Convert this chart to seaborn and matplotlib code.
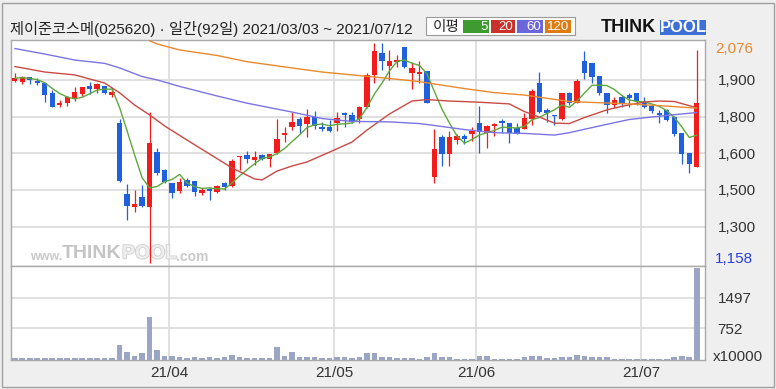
import numpy as np
import pandas as pd
import seaborn as sns
import matplotlib.pyplot as plt
import matplotlib.patheffects as pe
from matplotlib.patches import Rectangle

sns.set_theme(style="white")
plt.rcParams['font.family'] = ['Liberation Sans', 'Noto Sans CJK KR', 'DejaVu Sans']

title = "제이준코스메(025620) · 일간(92일) 2021/03/03 ~ 2021/07/12"
month_labels = ["21/04", "21/05", "21/06", "21/07"]
month_start = [21, 43, 62, 84]  # first trading day of each month

# daily candles (KRW)
opens = [1919, 1913, 1933, 1919, 1910, 1866, 1817, 1825, 1844, 1862,
         1897, 1883, 1897, 1859, 1741, 1446, 1393, 1435, 1393, 1620,
         1546, 1493, 1460, 1505, 1500, 1449, 1467, 1456, 1491, 1480,
         1599, 1609, 1588, 1609, 1592, 1616, 1692, 1724, 1758, 1738,
         1766, 1724, 1724, 1741, 1785, 1776, 1758, 1810, 1943, 2036,
         1981, 1998, 2058, 1952, 1947, 1959, 1518, 1683, 1613, 1671,
         1688, 1697, 1741, 1702, 1730, 1751, 1741, 1720, 1716, 1758,
         1908, 1797, 1776, 1758, 1866, 1827, 2002, 1991, 1938, 1869,
         1817, 1850, 1859, 1866, 1831, 1813, 1783, 1797, 1769, 1699,
         1616, 1560]
closes = [1929, 1934, 1922, 1908, 1859, 1810, 1827, 1850, 1870, 1891,
          1884, 1904, 1869, 1870, 1502, 1398, 1403, 1396, 1658, 1533,
          1498, 1452, 1498, 1480, 1456, 1463, 1460, 1480, 1477, 1585,
          1605, 1592, 1602, 1592, 1612, 1674, 1699, 1748, 1730, 1766,
          1731, 1716, 1710, 1762, 1776, 1748, 1808, 1943, 2043, 2002,
          2001, 2005, 1977, 1973, 1956, 1827, 1633, 1613, 1683, 1688,
          1674, 1710, 1706, 1730, 1738, 1741, 1702, 1697, 1762, 1877,
          1790, 1785, 1772, 1866, 1825, 1919, 1952, 1936, 1869, 1817,
          1838, 1825, 1845, 1834, 1810, 1794, 1776, 1755, 1695, 1613,
          1571, 1825]
highs = [1950, 1938, 1935, 1929, 1911, 1880, 1838, 1855, 1891, 1894,
         1915, 1908, 1898, 1890, 1758, 1487, 1463, 1484, 1790, 1637,
         1549, 1494, 1512, 1512, 1501, 1470, 1477, 1484, 1498, 1591,
         1605, 1627, 1627, 1613, 1612, 1758, 1724, 1790, 1769, 1800,
         1794, 1748, 1755, 1790, 1790, 1790, 1813, 1950, 2076, 2076,
         2047, 2026, 2061, 1998, 2002, 1960, 1716, 1692, 1710, 1697,
         1697, 1724, 1813, 1734, 1741, 1758, 1744, 1741, 1785, 1883,
         1954, 1804, 1776, 1869, 1873, 1925, 2044, 1994, 1938, 1869,
         1850, 1859, 1866, 1869, 1850, 1822, 1797, 1800, 1772, 1699,
         1616, 2047]
lows = [1915, 1905, 1904, 1901, 1831, 1808, 1810, 1813, 1834, 1855,
        1863, 1869, 1863, 1852, 1498, 1338, 1373, 1393, 1158, 1526,
        1491, 1428, 1449, 1477, 1438, 1442, 1421, 1449, 1463, 1477,
        1546, 1574, 1567, 1588, 1560, 1613, 1664, 1713, 1702, 1685,
        1716, 1710, 1706, 1710, 1724, 1741, 1744, 1804, 1908, 1963,
        1922, 1977, 1971, 1883, 1910, 1826, 1493, 1563, 1563, 1655,
        1655, 1669, 1616, 1637, 1688, 1702, 1658, 1697, 1716, 1734,
        1783, 1748, 1734, 1755, 1817, 1825, 1925, 1910, 1859, 1785,
        1804, 1810, 1810, 1817, 1804, 1783, 1744, 1752, 1688, 1571,
        1535, 1560]
# volume, x10000 shares
volumes = [40, 40, 40, 40, 40, 40, 40, 40, 40, 40,
           40, 40, 40, 40, 339, 184, 89, 145, 1032, 218,
           89, 89, 56, 40, 56, 40, 56, 40, 56, 113,
           56, 40, 40, 40, 40, 298, 89, 184, 56, 56,
           56, 40, 40, 56, 56, 40, 56, 145, 145, 56,
           56, 40, 40, 40, 24, 65, 145, 65, 65, 24,
           24, 24, 89, 89, 24, 24, 24, 24, 65, 89,
           89, 40, 40, 65, 65, 113, 89, 65, 65, 65,
           24, 24, 24, 24, 24, 24, 24, 24, 65, 89,
           65, 2202]

# moving averages (20/60/120 need history before the window)
ma20_idx = [0, 4, 8, 12, 14, 16, 18, 20, 23, 26, 29, 32, 33, 35, 37, 39, 42, 45,
            47, 50, 53, 55, 58, 62, 66, 68, 70, 72, 74, 76, 79, 81, 84, 86, 88, 91]
ma20_val = [1978, 1955, 1943, 1909, 1868, 1817, 1776, 1730, 1671, 1613, 1555, 1509,
            1505, 1542, 1563, 1580, 1621, 1663, 1713, 1780, 1834, 1840, 1834, 1829,
            1822, 1790, 1767, 1742, 1740, 1765, 1797, 1812, 1830, 1834, 1832, 1806]
ma60_idx = [0, 4, 8, 12, 14, 17, 19, 22, 27, 31, 37, 41, 45, 50, 54, 56, 60, 64,
            68, 72, 74, 78, 82, 87, 91]
ma60_val = [2053, 2030, 2005, 1991, 1972, 1936, 1922, 1895, 1855, 1825, 1788, 1761,
            1749, 1747, 1740, 1732, 1715, 1702, 1699, 1692, 1702, 1730, 1757, 1774, 1786]
ma120_idx = [18, 19, 22, 27, 31, 37, 41, 45, 50, 54, 56, 60, 64, 68, 72, 74, 78,
             82, 87, 91]
ma120_val = [2085, 2072, 2047, 2024, 1998, 1972, 1955, 1943, 1928, 1915, 1905, 1886,
             1869, 1859, 1841, 1832, 1827, 1822, 1813, 1804]

price_ticks = [1922, 1769, 1616, 1463, 1310]
price_labels = ["1,900", "1,800", "1,600", "1,500", "1,300"]
vol_ticks = [752, 1497]

df = pd.DataFrame({'open': opens, 'close': closes, 'high': highs, 'low': lows,
                   'volume': volumes})
df['idx'] = np.arange(len(df))
df['ma5'] = df['close'].rolling(5, min_periods=1).mean()

ma = pd.concat([
    pd.DataFrame({'idx': df['idx'], 'value': df['ma5'], 'line': '5'}),
    pd.DataFrame({'idx': ma20_idx, 'value': ma20_val, 'line': '20'}),
    pd.DataFrame({'idx': ma60_idx, 'value': ma60_val, 'line': '60'}),
    pd.DataFrame({'idx': ma120_idx, 'value': ma120_val, 'line': '120'}),
], ignore_index=True)
ma_colors = {'5': '#5fa83c', '20': '#c94a44', '60': '#7c74e2', '120': '#e8892e'}

W, H = 776, 389
fx = lambda x: x / W
fy = lambda y: 1 - y / H

fig = plt.figure(figsize=(7.76, 3.89), dpi=100, facecolor='#efefef')


def px_axes(l, t, r, b, **kw):
    return fig.add_axes([fx(l), fy(b), (r - l) / W, (b - t) / H], **kw)


ax = px_axes(11, 40, 705, 266)
axv = px_axes(11, 266, 705, 359.5, sharex=ax)

red, blue = '#f21c1c', '#2160dc'
colors = np.where(df['close'] >= df['open'], red, blue)

# candles
ax.vlines(df['idx'], df['low'], df['high'], colors=colors, lw=0.9, zorder=3)
body = (df['close'] - df['open']).abs().clip(lower=5)
ax.bar(df['idx'], body, bottom=df[['open', 'close']].min(axis=1), width=0.72,
       color=colors, linewidth=0, zorder=4)

sns.lineplot(data=ma, x='idx', y='value', hue='line', palette=ma_colors,
             estimator=None, lw=1.0, legend=False, ax=ax, zorder=5)

# volume
sns.barplot(x=df['idx'], y=df['volume'], native_scale=True, color='#9ba6c4',
            saturation=1, width=0.75, linewidth=0, errorbar=None, ax=axv)

grid_kw = dict(color='#dadada', lw=1.2)
for a in (ax, axv):
    a.set_facecolor('white')
    a.set_xlabel('')
    a.set_ylabel('')
    for s in a.spines.values():
        s.set_color('#a9a9a9')
        s.set_linewidth(1)
    a.grid(True, **grid_kw)
    a.set_axisbelow(True)
    a.yaxis.tick_right()
    a.tick_params(axis='y', length=0, pad=9, labelsize=11, labelcolor='#333333')
    a.tick_params(axis='x', length=0)

ax.set_xlim(-0.5, 92.1)
ax.set_ylim(1146, 2088.5)
ax.set_yticks(price_ticks)
ax.set_yticklabels(price_labels)
ax.set_xticks([m - 0.4 for m in month_start])
ax.tick_params(axis='x', labelbottom=False)

axv.set_ylim(0, 2258)
axv.set_yticks(vol_ticks)
axv.set_yticklabels([str(v) for v in vol_ticks])
axv.set_xticks([m - 0.4 for m in month_start])
axv.set_xticklabels(month_labels)
axv.tick_params(axis='x', pad=5, labelsize=11, labelcolor='#333333')
axv.set_xlim(-0.5, 92.1)

# range labels and unit
fig.text(fx(715), fy(49), "2,076", color='#e8892e', fontsize=11, va='center')
fig.text(fx(715), fy(259), "1,158", color='#2e3fd8', fontsize=11, va='center')
fig.text(fx(713), fy(357), "x10000", color='#333333', fontsize=11, va='center')

# watermark
wm = dict(transform=fig.transFigure, va='center', zorder=1, fontweight='bold')
ax.text(fx(30), fy(257), "www.", fontsize=9, color='#c9c9c9', **wm)
ax.text(fx(62), fy(254), "THINK", fontsize=14, color='#c4c4c4', **wm)
ax.text(fx(122), fy(254), "POOL", fontsize=14, color='#eeeeee',
        path_effects=[pe.withStroke(linewidth=1.2, foreground='#cfcfcf')], **wm)
ax.text(fx(176), fy(257), ".com", fontsize=10, color='#c9c9c9', **wm)


# header
def rect(l, t, r, b, **kw):
    fig.patches.append(Rectangle((fx(l), fy(b)), (r - l) / W, (b - t) / H,
                                 transform=fig.transFigure, figure=fig, **kw))


rect(1.5, 3, 773.5, 386.5, fc='none', ec='#a0a0a0', lw=1)
fig.text(fx(10), fy(29), title, fontsize=11, va='center', color='#222222')

rect(426, 17, 575, 35, fc='white', ec='#9a9a9a', lw=0.8)
fig.text(fx(433), fy(26.5), "이평", fontsize=10.5, va='center', color='#222222')
legend_boxes = [('5', 463, 489, '#3d9b2f'), ('20', 491, 515, '#c9312c'),
                ('60', 517, 543, '#6c66dc'), ('120', 545, 571, '#e07b12')]
for lab, l, r, c in legend_boxes:
    rect(l, 19.5, r, 32.5, fc=c, ec='none')
    fig.text(fx(r - 1.5), fy(26.5), lab, fontsize=9.5, ha='right', va='center',
             color='white')

fig.text(fx(601), fy(27.5), "THINK", fontsize=13, fontweight='heavy',
         color='#111111', va='center')
rect(660, 20.5, 706, 34.5, fc='#3d6fd6', ec='none')
fig.text(fx(683), fy(27.5), "POOL", fontsize=12, fontweight='heavy',
         color='white', ha='center', va='center')

fig.savefig('out.png', dpi=100, facecolor=fig.get_facecolor())
